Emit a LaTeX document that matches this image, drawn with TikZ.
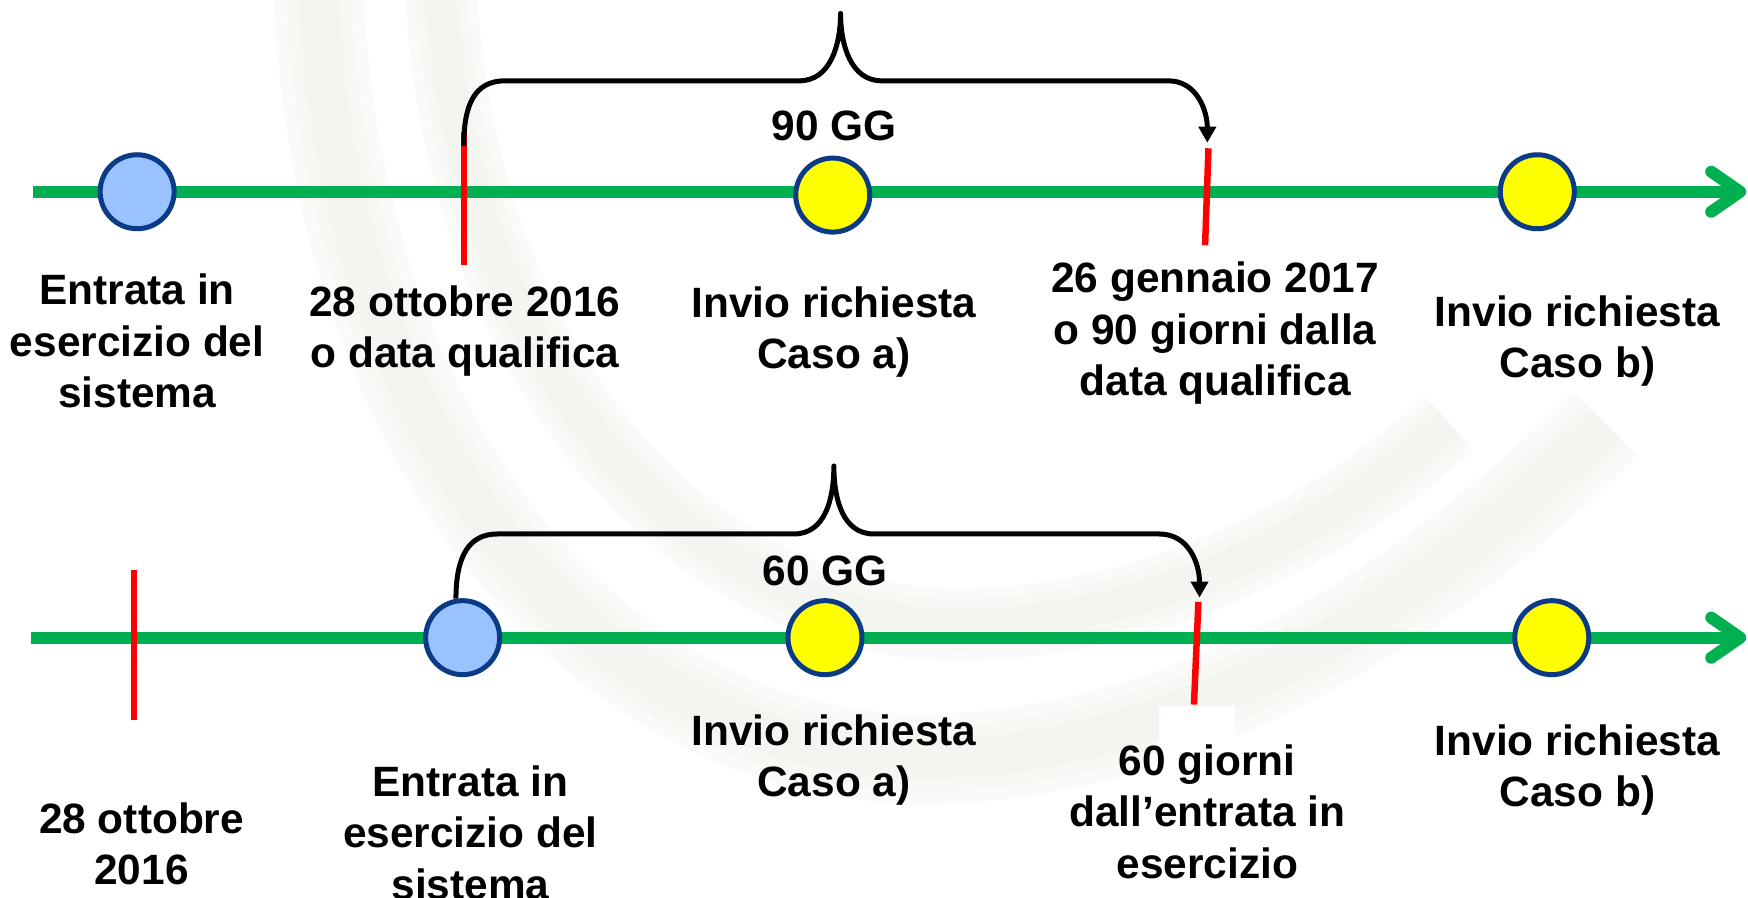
\documentclass[tikz,border=0pt]{standalone}
\usepackage{fontspec}
\setmainfont{Liberation Sans}
\usetikzlibrary{arrows.meta,calc}
\definecolor{tlgreen}{HTML}{00B050}
\definecolor{tlred}{HTML}{FF0000}
\definecolor{dotblue}{HTML}{99C2FF}
\definecolor{dotborder}{HTML}{0B3A86}
\definecolor{dotyellow}{HTML}{FFFF00}
\definecolor{wmarkA}{HTML}{FAFBF8}
\definecolor{wmarkB}{HTML}{F6F8F3}
\definecolor{wmarkC}{HTML}{F3F6F0}
\begin{document}
\begin{tikzpicture}[x=1.1148pt,y=-1.1148pt,
  greenline/.style={draw=tlgreen,line width=12pt},
  chevron/.style={draw=tlgreen,line width=12pt,line cap=round,line join=round},
  redtick/.style={draw=tlred,line width=6.5pt},
  dotbase/.style={circle,draw=dotborder,line width=5pt,minimum size=74pt,inner sep=0pt},
  bluedot/.style={dotbase,fill=dotblue},
  yellowdot/.style={dotbase,fill=dotyellow},
  bracepath/.style={draw=black,line width=5pt,line join=round},
  lbl/.style={align=center,inner sep=0pt,font=\fontsize{42.4}{51.3}\selectfont\bfseries},
  gg/.style={inner sep=0pt,font=\fontsize{42.4}{51.3}\selectfont\bfseries}]
\useasboundingbox[fill=white] (0,0) rectangle (1568,805.5);

% ---------------- faint, soft background watermark ----------------
\foreach \w/\c in {90/wmarkA,65/wmarkB,40/wmarkC}{
  \draw[draw=\c,line width=\w pt] (285,-20) .. controls (300,420) and (560,700) .. (860,680)
    .. controls (1100,665) and (1300,520) .. (1440,380);
  \draw[draw=\c,line width=\w pt*0.8] (395,-20) .. controls (410,330) and (620,560) .. (860,560)
    .. controls (1040,560) and (1200,470) .. (1300,380);
}
\fill[white] (1040,633) rectangle (1108,683);

% ---------------- top timeline ----------------
\coordinate (A1s) at (30,172);
\coordinate (A1e) at (1561,172);
\draw[greenline] (A1s) -- (A1e);
\draw[chevron] ($(A1e)+(-26,-18)$) -- (A1e) -- ($(A1e)+(-26,18)$);

\coordinate (R1t) at (416,118);
\coordinate (R1b) at (416,238);
\draw[redtick] (R1t) -- (R1b);
\coordinate (R2t) at (1084,133);
\coordinate (R2b) at (1081,220);
\draw[redtick] (R2t) -- (R2b);

\node[bluedot] (c1) at (123,172) {};
\node[yellowdot] (c2) at (747,175) {};
\node[yellowdot] (c3) at (1379,172) {};

\coordinate (B1s) at (416,131);
\coordinate (B1e) at (1083,128);
\draw[bracepath,-{Triangle[length=16pt,width=17pt]}] (B1s)
  .. controls (416,95) and (425,72.5) .. (453,72.5) -- (717,72.5)
  .. controls (745,72.5) and (754,40) .. (754,12)
  .. controls (754,40) and (763,72.5) .. (791,72.5) -- (1048,72.5)
  .. controls (1074,72.5) and (1083,100) .. (B1e);

\node[gg] (g1) at (748,113) {90 GG};
\node[lbl] (t1) at (123,306) {Entrata in\\esercizio del\\sistema};
\node[lbl] (t2) at (417,297) {28 ottobre 2016\\o data qualifica};
\node[lbl] (t3) at (748,298) {Invio richiesta\\Caso a)};
\node[lbl] (t4) at (1090,299) {26 gennaio 2017\\o 90 giorni dalla\\data qualifica};
\node[lbl] (t5) at (1415,306) {Invio richiesta\\Caso b)};

% ---------------- bottom timeline ----------------
\coordinate (A2s) at (28,572);
\coordinate (A2e) at (1561,572);
\draw[greenline] (A2s) -- (A2e);
\draw[chevron] ($(A2e)+(-26,-18)$) -- (A2e) -- ($(A2e)+(-26,18)$);

\coordinate (R3t) at (120,511);
\coordinate (R3b) at (120,646);
\draw[redtick] (R3t) -- (R3b);
\coordinate (R4t) at (1075,540);
\coordinate (R4b) at (1071,632);
\draw[redtick] (R4t) -- (R4b);

\node[bluedot] (d1) at (415,572) {};
\node[yellowdot] (d2) at (740,572) {};
\node[yellowdot] (d3) at (1392,572) {};

\coordinate (B2s) at (409,537);
\coordinate (B2e) at (1076,536);
\draw[bracepath,-{Triangle[length=16pt,width=17pt]}] (B2s)
  .. controls (409,500) and (420,479) .. (446,479) -- (712,479)
  .. controls (740,479) and (748,448) .. (748,418)
  .. controls (748,448) and (756,479) .. (784,479) -- (1040,479)
  .. controls (1066,479) and (1076,505) .. (B2e);

\node[gg] (g2) at (740,512) {60 GG};
\node[lbl] (u1) at (127,757) {28 ottobre\\2016};
\node[lbl] (u2) at (422,747) {Entrata in\\esercizio del\\sistema};
\node[lbl] (u3) at (748,682) {Invio richiesta\\Caso a)};
\node[lbl] (u4) at (1083,728) {60 giorni\\dall’entrata in\\esercizio};
\node[lbl] (u5) at (1415,691) {Invio richiesta\\Caso b)};
\end{tikzpicture}
\end{document}
